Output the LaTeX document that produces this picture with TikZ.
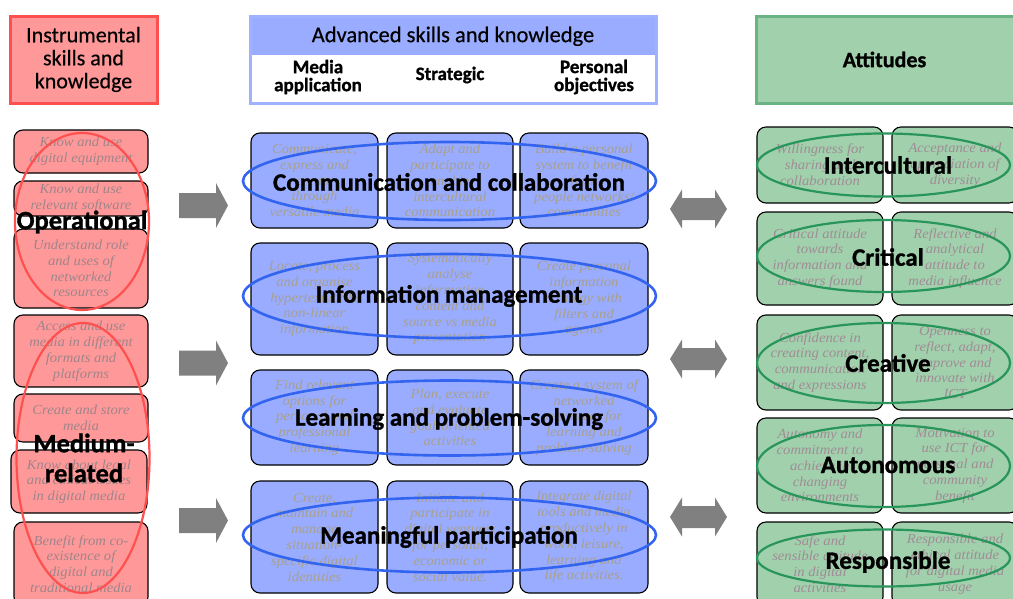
\documentclass[tikz,border=0pt]{standalone}
\usepackage{fontspec}
\setmainfont{Liberation Serif}[ItalicFeatures={FakeStretch=1.06}]
\newfontfamily\calfont{Carlito}[FakeBold=0.4,BoldFeatures={FakeBold=1.1}]
\usetikzlibrary{shapes.geometric}
\definecolor{redfill}{RGB}{255,153,153}
\definecolor{redline}{RGB}{255,80,80}
\definecolor{redtext}{RGB}{160,132,138}
\definecolor{bluefill}{RGB}{153,172,255}
\definecolor{blueline}{RGB}{160,178,255}
\definecolor{bluering}{RGB}{50,100,240}
\definecolor{bluetext}{RGB}{168,160,140}
\definecolor{greenfill}{RGB}{160,208,172}
\definecolor{greenline}{RGB}{105,180,130}
\definecolor{greenring}{RGB}{40,150,90}
\definecolor{greentext}{RGB}{160,140,150}
\definecolor{arrowgray}{RGB}{128,128,128}
\newcommand\cellbox[7]{\node[#2, minimum width={(#5-#3)*1pt}, minimum height={(#6-#4)*1pt}] (#1) at ({(#3+#5)/2},{(#4+#6)/2}) {#7};}
\tikzset{
  cell/.style={draw=black, line width=1.1pt, rounded corners=9pt, inner sep=0pt, outer sep=0pt, align=center, font=\itshape\fontsize{13.8}{15.8}\selectfont},
  rcell/.style={cell, fill=redfill, text=redtext},
  bcell/.style={cell, fill=bluefill, text=bluetext},
  gcell/.style={cell, fill=greenfill, text=greentext},
  ring/.style={ellipse, inner sep=0pt, outer sep=0pt},
  lab/.style={font=\calfont\bfseries\fontsize{25}{30}\selectfont, text=black, inner sep=0pt, align=center},
  llab/.style={font=\calfont\bfseries\fontsize{26.5}{30}\selectfont, text=black, inner sep=0pt, align=center},
  head/.style={inner sep=0pt, outer sep=0pt, align=center},
  sub/.style={font=\calfont\bfseries\fontsize{19}{18}\selectfont, inner sep=0pt, align=center},
}
\begin{document}
\begin{tikzpicture}[x=1pt,y=-1pt]
\useasboundingbox (0,0) rectangle (1013,598);
% headers
\cellbox{hred}{head, draw=redline, line width=3pt, fill=redfill, font=\calfont\fontsize{22}{23}\selectfont}{10}{16}{157}{103}{Instrumental\\skills and\\knowledge}
\cellbox{hblue}{head, draw=blueline, line width=3pt, fill=white}{250}{16}{656}{103}{}
\cellbox{hband}{head, fill=bluefill, font=\calfont\fontsize{22.5}{24}\selectfont}{251.5}{17.5}{654.5}{55}{Advanced skills and knowledge}
\node[sub] (s1) at (318,77) {Media\\application};
\node[sub] (s2) at (450,75) {Strategic};
\node[sub] (s3) at (594,77) {Personal\\objectives};
\cellbox{hgreen}{head, draw=greenline, line width=3pt, fill=greenfill, font=\calfont\bfseries\fontsize{22}{24}\selectfont}{756}{16}{1020}{103}{\hspace*{-7pt}Attitudes}
% left column
\cellbox{l1}{rcell}{14}{130}{148}{173}{Know and use\\digital equipment}
\cellbox{l2}{rcell}{14}{181}{148}{216}{Know and use\\relevant software}
\cellbox{l3}{rcell}{14}{229}{148}{308}{Understand role\\and uses of\\networked\\resources}
\cellbox{l4}{rcell}{14}{315}{148}{387}{Access and use\\media in different\\formats and\\platforms}
\cellbox{l5}{rcell}{14}{394}{148}{442}{Create and store\\media}
\cellbox{l6}{rcell}{11}{450}{147}{513}{Know about legal\\and ethical issues\\in digital media}
\cellbox{l7}{rcell}{14}{522}{148}{606}{Benefit from co-\\existence of\\digital and\\traditional media}
\node[ring, draw=redline, line width=2.2pt, minimum width=134pt, minimum height=177pt] (e1) at (82,221.5) {};
\node[ring, draw=redline, line width=2.2pt, minimum width=133pt, minimum height=270pt] (e2) at (83,458) {};
\node[llab] (op) at (82,222) {Operational};
\node[llab] (mr) at (84,458) {Medium-\\related};
% middle column
\cellbox{m11}{bcell}{251}{133}{378}{228}{Communicate,\\express and\\create\\through\\versatile media}
\cellbox{m12}{bcell}{387}{133}{513}{228}{Adapt and\\participate to\\enable\\intercultural\\communication}
\cellbox{m13}{bcell}{520}{133}{648}{228}{Build a personal\\system to benefit\\from\\people networks/\\communities}
\cellbox{m21}{bcell}{251}{243}{378}{355}{Locate, process\\and organise\\hypertextual \&\\non-linear\\information}
\cellbox{m22}{bcell}{387}{243}{513}{355}{Systematically\\analyse\\information\\content and\\source vs media\\presentation}
\cellbox{m23}{bcell}{520}{243}{648}{355}{Create personal\\information\\strategy with\\filters and\\agents}
\cellbox{m31}{bcell}{251}{370}{378}{465}{Find relevant\\options for\\personal and\\professional\\learning}
\cellbox{m32}{bcell}{387}{370}{513}{465}{Plan, execute\\and evaluate\\goal-oriented\\activities}
\cellbox{m33}{bcell}{520}{370}{648}{465}{Create a system of\\networked\\resources for\\learning and\\problem-solving}
\cellbox{m41}{bcell}{251}{481}{378}{593}{Create,\\maintain and\\manage\\situation-\\specific digital\\identities}
\cellbox{m42}{bcell}{387}{481}{513}{593}{Initiate and\\participate in\\digital ventures\\for personal,\\economic or\\social value.}
\cellbox{m43}{bcell}{520}{481}{648}{593}{Integrate digital\\tools and media\\productively in\\work, leisure,\\learning and\\life activities.}
\node[ring, draw=bluering, line width=2.6pt, minimum width=413pt, minimum height=78pt] (b1) at (449.5,181) {};
\node[ring, draw=bluering, line width=2.6pt, minimum width=413pt, minimum height=84pt] (b2) at (449.5,296) {};
\node[ring, draw=bluering, line width=2.6pt, minimum width=413pt, minimum height=75pt] (b3) at (449.5,418) {};
\node[ring, draw=bluering, line width=2.6pt, minimum width=413pt, minimum height=75pt] (b4) at (449.5,535) {};
\node[lab] (t1) at (449,182) {Communication and collaboration};
\node[lab] (t2) at (449,296) {Information management};
\node[lab] (t3) at (449,419) {Learning and problem-solving};
\node[lab] (t4) at (449,537) {Meaningful participation};
% right column
\cellbox{g11}{gcell}{757}{127}{883}{203}{Willingness for\\sharing and\\collaboration}
\cellbox{g12}{gcell}{892}{127}{1018}{203}{Acceptance and\\appreciation of\\diversity}
\cellbox{g21}{gcell}{757}{212}{883}{305}{Critical attitude\\towards\\information and\\answers found}
\cellbox{g22}{gcell}{892}{212}{1018}{305}{Reflective and\\analytical\\attitude to\\media influence}
\cellbox{g31}{gcell}{757}{315}{883}{410}{Confidence in\\creating content,\\communication\\and expressions}
\cellbox{g32}{gcell}{892}{315}{1018}{410}{Openness to\\reflect, adapt,\\improve and\\innovate with\\ICT}
\cellbox{g41}{gcell}{757}{418}{883}{513}{Autonomy and\\commitment to\\achieve in\\changing\\environments}
\cellbox{g42}{gcell}{892}{418}{1018}{513}{Motivation to\\use ICT for\\personal and\\community\\benefit}
\cellbox{g51}{gcell}{757}{522}{883}{606}{Safe and\\sensible attitude\\in digital\\activities}
\cellbox{g52}{gcell}{892}{522}{1018}{606}{Responsible and\\ethical attitude\\for digital media\\usage}
\node[ring, draw=greenring, line width=2.2pt, minimum width=253pt, minimum height=63pt] (r1) at (883.5,165) {};
\node[ring, draw=greenring, line width=2.2pt, minimum width=253pt, minimum height=72pt] (r2) at (883.5,256) {};
\node[ring, draw=greenring, line width=2.2pt, minimum width=253pt, minimum height=80pt] (r3) at (883.5,363) {};
\node[ring, draw=greenring, line width=2.2pt, minimum width=253pt, minimum height=82pt] (r4) at (883.5,466) {};
\node[ring, draw=greenring, line width=2.2pt, minimum width=253pt, minimum height=57pt] (r5) at (883.5,558) {};
\node[lab] (a1) at (888,165) {Intercultural};
\node[lab] (a2) at (888,257) {Critical};
\node[lab] (a3) at (888,363) {Creative};
\node[lab] (a4) at (888,465) {Autonomous};
\node[lab] (a5) at (888,562) {Responsible};
% block arrows
\foreach \c in {205.5,363,520.5}{
  \fill[arrowgray] (179,\c-12.5) -- (216,\c-12.5) -- (216,\c-22.5) -- (228,\c) -- (216,\c+22.5) -- (216,\c+12.5) -- (179,\c+12.5) -- cycle;
}
\foreach \c in {209,359,517}{
  \fill[arrowgray] (670,\c) -- (682,\c-19.5) -- (682,\c-11) -- (715,\c-11) -- (715,\c-19.5) -- (727,\c) -- (715,\c+19.5) -- (715,\c+11) -- (682,\c+11) -- (682,\c+19.5) -- cycle;
}
\end{tikzpicture}
\end{document}
